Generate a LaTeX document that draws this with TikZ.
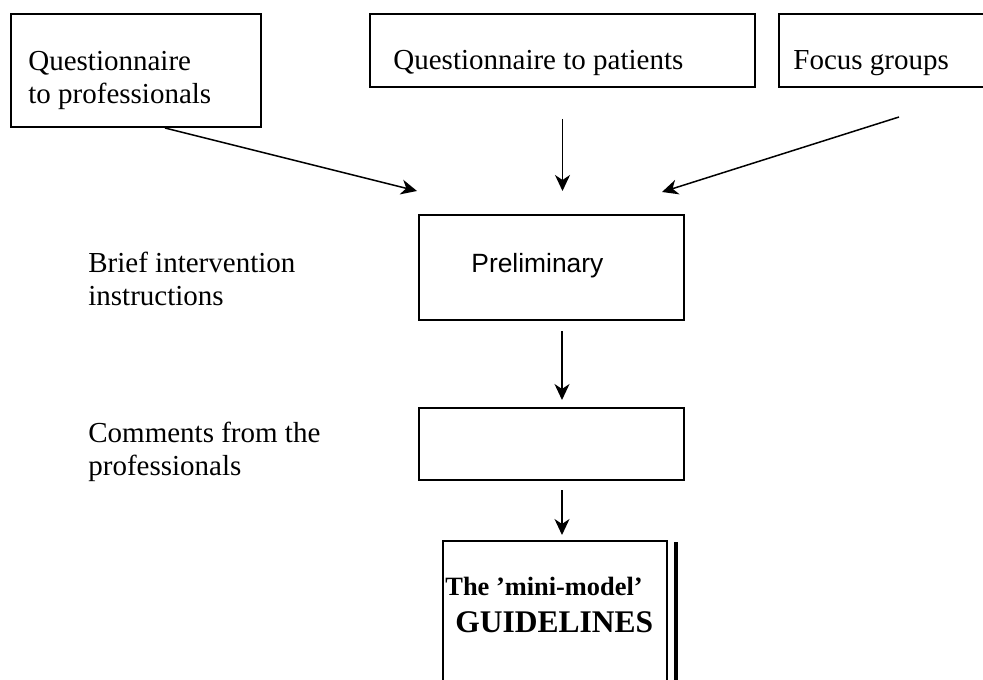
\documentclass[tikz,border=0pt]{standalone}
\usepackage{fontspec}
\setmainfont{Liberation Serif}
\setsansfont{Liberation Sans}
\usetikzlibrary{arrows.meta,positioning,calc}
\newdimen\pxu \pxu=0.5pt

\tikzset{
  box/.style={draw, line width=1pt, inner sep=0pt, anchor=north west},
  txt/.style={anchor=base west, inner sep=0pt, align=left,
    font=\fontsize{14.5}{16.5}\selectfont},
  arr/.style={line width=0.75pt, -{Stealth[length=8pt,width=7.5pt,inset=2.5pt]}},
}

\begin{document}
\begin{tikzpicture}[x=0.5pt, y=-0.5pt]
  \useasboundingbox (0,0) rectangle (983,679);
  \clip (0,0) rectangle (983,679);

  % sources
  \node[box, minimum width=250\pxu, minimum height=113\pxu] (qprof) at (10,13) {};
  \node[box, minimum width=385\pxu, minimum height=73\pxu] (qpat) at (369,13) {};
  \node[box, minimum width=240\pxu, minimum height=73\pxu] (focus) at (778,13) {};   % runs off the page
  \node[txt] (qproftxt) at (28,104) {Questionnaire\\to professionals};   % base = last line
  \node[txt] (qpattxt) at (393,70) {Questionnaire to patients};
  \node[txt] (focustxt) at (793,70) {Focus groups};

  % middle column
  \coordinate (spine) at (562,0);    % helper
  \node[box, minimum width=265\pxu, minimum height=105\pxu] (prelim) at (418,214) {};
  \node[txt, font=\sffamily\fontsize{13.2}{15}\selectfont] (prelimtxt) at (471,272) {Preliminary};
  \node[txt] (brief) at (88,305) {Brief intervention\\instructions};

  \node[box, minimum width=265\pxu, minimum height=72\pxu] (comm) at (418,407) {};
  \node[txt] (commtxt) at (88,475) {Comments from the\\professionals};

  \node[box, minimum width=224\pxu, minimum height=170\pxu] (guide) at (442,540) {};   % runs off the page
  \draw[line width=2pt] ([xshift=8\pxu, yshift=-2\pxu]guide.north east) -- ([xshift=8\pxu]guide.south east);
  \node[txt, font=\bfseries\fontsize{13.2}{15}\selectfont] (mini) at (445,595) {The 'mini-model'};
  \node[txt, font=\bfseries\fontsize{15.75}{18}\selectfont] (guidetxt) at (455,632) {GUIDELINES};

  % arrows
  \coordinate (qprofout) at ($(qprof.south west)+(155,0)$);
  \coordinate (leftin) at (417,191);
  \coordinate (focusout) at (899,117);
  \coordinate (rightin) at (662,192);
  \draw[arr] (qprofout) -- (leftin);
  \draw[arr] (focusout) -- (rightin);
  \draw[arr, shorten <=31\pxu, shorten >=23\pxu] (qpat.south) -- (qpat.south |- prelim.north);
  \draw[arr, shorten <=10\pxu, shorten >=7\pxu] (spine |- prelim.south) -- (spine |- comm.north);
  \draw[arr, shorten <=9\pxu, shorten >=5\pxu] (spine |- comm.south) -- (spine |- guide.north);
\end{tikzpicture}
\end{document}
